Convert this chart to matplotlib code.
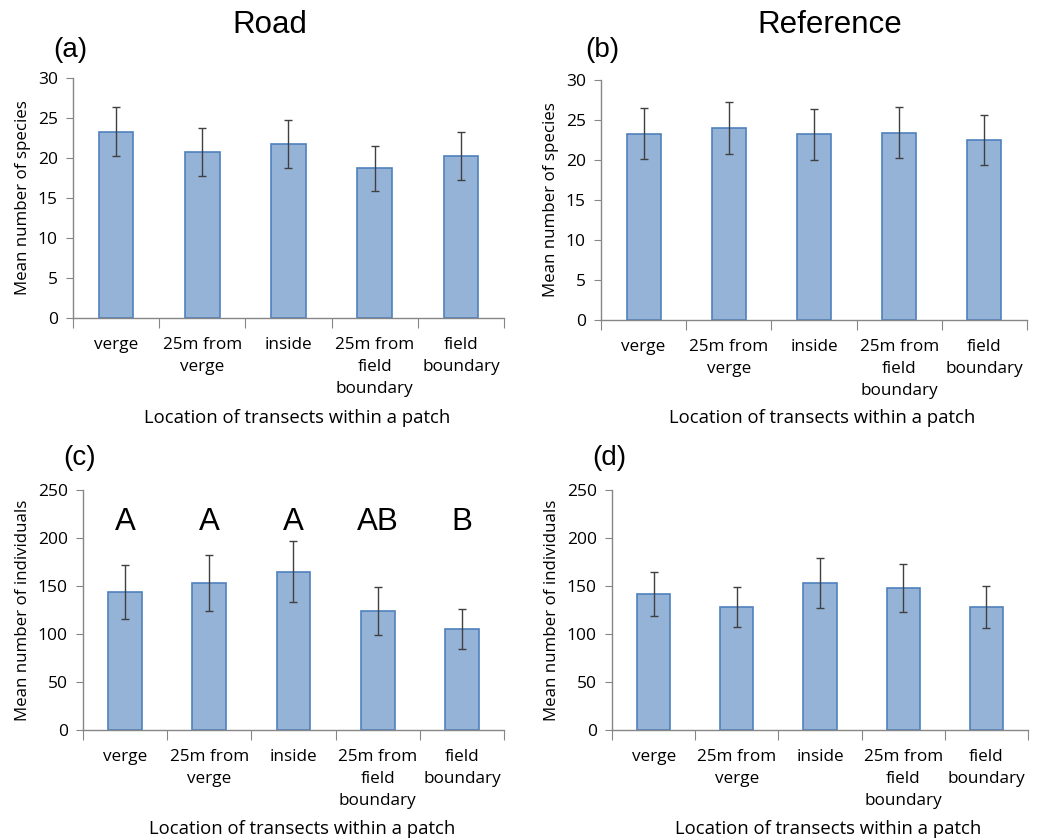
import matplotlib
matplotlib.use("Agg")
import matplotlib.pyplot as plt
import numpy as np

categories = ["verge", "25m from\nverge", "inside", "25m from\nfield\nboundary", "field\nboundary"]

road_species = [23.3, 20.8, 21.7, 18.7, 20.2]
road_species_err = [3.1, 3.0, 3.0, 2.8, 3.0]
ref_species = [23.3, 24.0, 23.2, 23.4, 22.5]
ref_species_err = [3.2, 3.3, 3.2, 3.2, 3.1]
road_indiv = [144, 153, 165, 124, 105]
road_indiv_err = [28, 29, 32, 25, 21]
ref_indiv = [142, 128, 153, 148, 128]
ref_indiv_err = [23, 21, 26, 25, 22]
road_letters = ["A", "A", "A", "AB", "B"]

plt.rcParams['font.family'] = ['Open Sans', 'DejaVu Sans']

fig = plt.figure(figsize=(10.5, 8.4), dpi=100)

bar_color = "#95B3D7"
edge_color = "#4F81BD"
axis_color = "#868686"

def panel(rect, vals, errs, ymax, ystep, ylabel, xlabel_y, letters=None):
    ax = fig.add_axes(rect)
    x = np.arange(len(vals))
    ax.bar(x, vals, width=0.4, color=bar_color, edgecolor=edge_color, linewidth=1.2, zorder=2)
    ax.errorbar(x, vals, yerr=errs, fmt="none", ecolor="#404040", elinewidth=1.0, capsize=3, capthick=1.0, zorder=3)
    ax.set_xlim(-0.5, len(vals) - 0.5)
    ax.set_ylim(0, ymax)
    ax.set_yticks(np.arange(0, ymax + 0.1, ystep))
    for s in ["top", "right"]:
        ax.spines[s].set_visible(False)
    for s in ["left", "bottom"]:
        ax.spines[s].set_color(axis_color)
        ax.spines[s].set_linewidth(1.0)
    ax.set_xticks(np.arange(-0.5, len(vals), 1.0))
    ax.set_xticklabels([])
    ax.set_xticks(x, minor=True)
    ax.set_xticklabels(categories, minor=True, fontsize=12.3, linespacing=1.5, va="top")
    ax.tick_params(axis="x", which="major", direction="out", length=7, color=axis_color)
    ax.tick_params(axis="x", which="minor", length=0, pad=14)
    ax.tick_params(axis="y", direction="out", length=5, color=axis_color, labelsize=12.5, pad=6)
    ax.set_ylabel(ylabel, fontsize=12.2, labelpad=5)
    ax.set_xlabel("Location of transects within a patch", fontsize=13.3, va="center")
    ax.xaxis.set_label_coords(0.52, xlabel_y)
    if letters:
        for xi, t in zip(x, letters):
            ax.text(xi, 217, t, ha="center", va="center", fontsize=22.5, family="Liberation Sans")
    return ax

panel([0.0695, 0.6214, 0.4105, 0.2857], road_species, road_species_err, 30, 5, "Mean number of species", -0.415)
panel([0.5724, 0.6194, 0.4057, 0.2854], ref_species, ref_species_err, 30, 5, "Mean number of species", -0.41)
panel([0.079, 0.1313, 0.401, 0.2850], road_indiv, road_indiv_err, 250, 50, "Mean number of individuals", -0.415, road_letters)
panel([0.5829, 0.1313, 0.3962, 0.2850], ref_indiv, ref_indiv_err, 250, 50, "Mean number of individuals", -0.415)

fig.text(270 / 1050, 1 - 25 / 840, "Road", ha="center", va="center", fontsize=22.5, family="Liberation Sans")
fig.text(830 / 1050, 1 - 25 / 840, "Reference", ha="center", va="center", fontsize=22.5, family="Liberation Sans")
fig.text(70 / 1050, 1 - 50 / 840, "(a)", ha="center", va="center", fontsize=20, family="Liberation Sans")
fig.text(602 / 1050, 1 - 50 / 840, "(b)", ha="center", va="center", fontsize=20, family="Liberation Sans")
fig.text(80 / 1050, 1 - 458 / 840, "(c)", ha="center", va="center", fontsize=20, family="Liberation Sans")
fig.text(609 / 1050, 1 - 458 / 840, "(d)", ha="center", va="center", fontsize=20, family="Liberation Sans")

fig.savefig("out.png", dpi=100)
